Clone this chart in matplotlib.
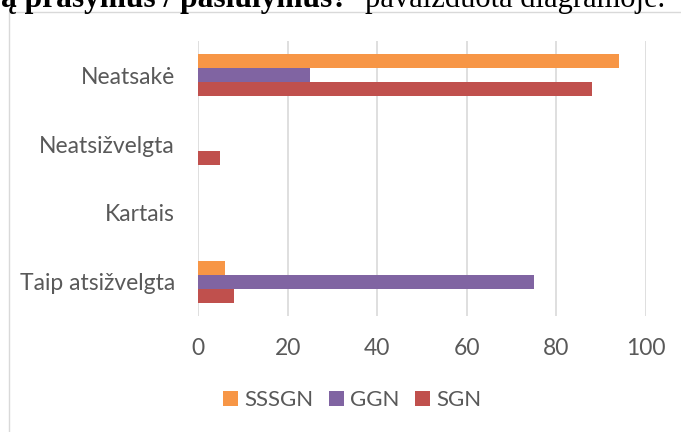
import matplotlib
matplotlib.use("Agg")
import numpy as np
import matplotlib.pyplot as plt
from matplotlib.patches import Rectangle

# survey answers, bottom to top as they appear on the chart
categories = ["Taip atsižvelgta", "Kartais", "Neatsižvelgta", "Neatsakė"]
sssgn = [6, 0, 0, 94]
ggn = [75, 0, 0, 25]
sgn = [8, 0, 5, 88]
series_names = ["SSSGN", "GGN", "SGN"]
x_ticks = [0, 20, 40, 60, 80, 100]

colors = ["#F79646", "#8064A2", "#C0504D"]
text_gray = "#595959"
grid_gray = "#D9D9D9"
font = ["Lato", "DejaVu Sans"]

W, H = 681, 432
fig = plt.figure(figsize=(W / 100, H / 100), dpi=100)

# chart frame (runs off the right and bottom edges)
fig.patches.append(Rectangle((8.5 / W, -0.1), 1.0, 1.1 - 12.5 / H,
                             transform=fig.transFigure, fill=False,
                             edgecolor=grid_gray, linewidth=1.0))

# caption line above the chart, cut by the top edge
bold = fig.text(1 / W, 1 - 7 / H, "ą prašymus / pasiūlymus?", fontsize=22,
                fontweight="bold", family="Liberation Serif", va="baseline", ha="left")
renderer = fig.canvas.get_renderer()
bw = bold.get_window_extent(renderer).width
bold.set_fontsize(22 * 347 / bw)
fig.text(365 / W, 1 - 7 / H, "pavaizduota diagramoje.", fontsize=22,
         family="Liberation Serif", va="baseline", ha="left")

left, right, top, bottom = 198, 646, 41, 316
ax = fig.add_axes([left / W, 1 - bottom / H, (right - left) / W, (bottom - top) / H])

y = np.arange(len(categories))
h = 0.204
ax.barh(y + h, sssgn, height=h, color=colors[0], label=series_names[0], zorder=3)
ax.barh(y, ggn, height=h, color=colors[1], label=series_names[1], zorder=3)
ax.barh(y - h, sgn, height=h, color=colors[2], label=series_names[2], zorder=3)

ax.set_xlim(0, 100)
ax.set_ylim(-0.5, len(categories) - 0.5)
ax.set_xticks(x_ticks)
ax.set_yticks(y)
ax.set_yticklabels(categories)
ax.grid(axis="x", color=grid_gray, linewidth=1.2, zorder=0)
for s in ax.spines.values():
    s.set_visible(False)
ax.tick_params(axis="both", length=0, colors=text_gray, labelsize=16.5)
ax.tick_params(axis="x", pad=15.7)
ax.tick_params(axis="y", pad=16.5)
for lab in ax.get_xticklabels() + ax.get_yticklabels():
    lab.set_family(font)

leg = fig.legend(loc="center", bbox_to_anchor=(352.5 / W, 1 - 400 / H), ncol=3,
                 frameon=False, handlelength=0.65, handleheight=0.65,
                 handletextpad=0.3, columnspacing=0.7,
                 prop={"family": font, "size": 16})
for t in leg.get_texts():
    t.set_color(text_gray)

fig.savefig("out.png", dpi=100, facecolor="white")
